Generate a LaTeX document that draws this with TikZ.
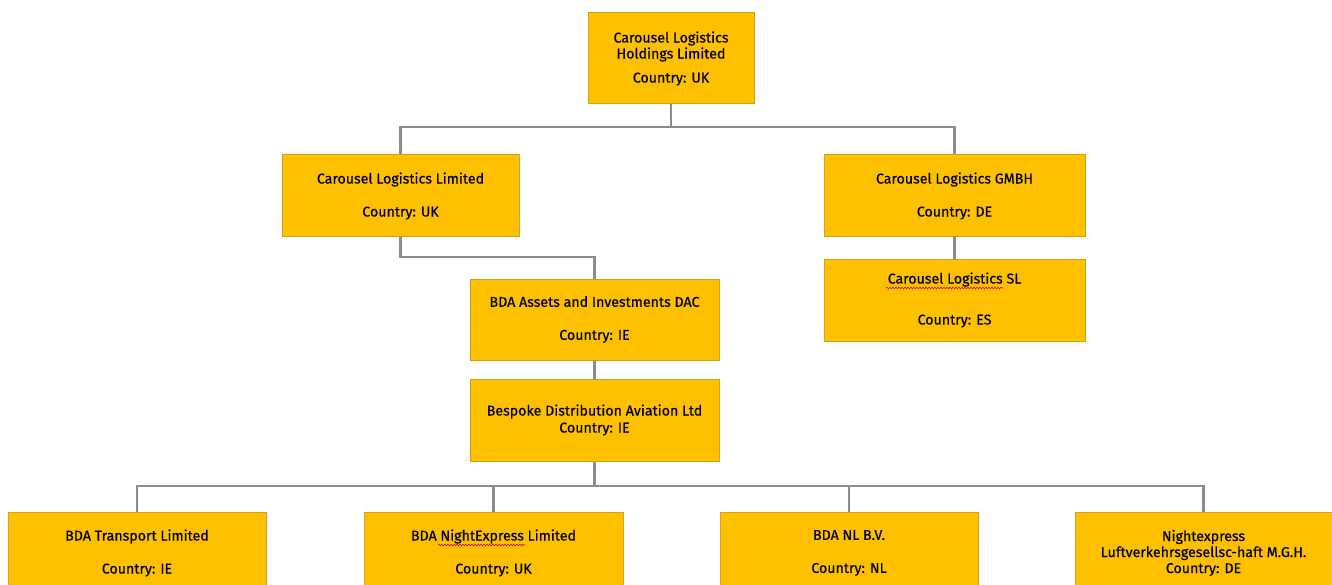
\documentclass[tikz,border=0pt]{standalone}
\usepackage{fontspec}
\setmainfont{Fira Sans}
\newfontfamily\boxfont{Fira Sans}[FakeBold=0.6]
\usetikzlibrary{decorations.pathmorphing}
\definecolor{boxfill}{HTML}{FFC000}
\definecolor{boxline}{HTML}{D4A017}
\definecolor{connc}{HTML}{8C8C8C}
\begin{document}
\begin{tikzpicture}[x=1pt,y=-1pt,
  entity/.style={draw=boxline, line width=1pt, fill=boxfill, rectangle, inner sep=0pt,
    align=center, font=\boxfont\fontsize{14.2}{16}\selectfont, text=black},
  conn/.style={draw=connc, line width=2.2pt},
  squig/.style={draw=red!85!black, line width=0.6pt, decorate,
    decoration={snake, amplitude=0.8pt, segment length=3pt}}]
\useasboundingbox (0,0) rectangle (1332,585);
% nodes
\node[entity, minimum width=166pt, minimum height=91pt] (top) at (671,58.5)
  {Carousel Logistics\\Holdings Limited\\[8pt]Country: UK};
\node[entity, minimum width=237pt, minimum height=82pt] (cll) at (400.5,196)
  {Carousel Logistics Limited\\[17pt]Country: UK};
\node[entity, minimum width=261pt, minimum height=82pt] (gmbh) at (954.5,196)
  {Carousel Logistics GMBH\\[17pt]Country: DE};
\node[entity, minimum width=261pt, minimum height=82pt] (sl) at (954.5,300)
  {Carousel Logistics SL\\[25pt]Country: ES};
\node[entity, minimum width=249pt, minimum height=81pt] (assets) at (594.5,319.5)
  {BDA Assets and Investments DAC\\[17pt]Country: IE};
\node[entity, minimum width=249pt, minimum height=82pt] (bespoke) at (594.5,420)
  {Bespoke Distribution Aviation Ltd\\[1pt]Country: IE};
\node[entity, minimum width=258pt, minimum height=82pt] (transport) at (137,553)
  {BDA Transport Limited\\[17pt]Country: IE};
\node[entity, minimum width=259pt, minimum height=82pt] (nightexp) at (493.5,553)
  {BDA NightExpress Limited\\[17pt]Country: UK};
\node[entity, minimum width=258pt, minimum height=82pt] (nl) at (849,553)
  {BDA NL B.V.\\[17pt]Country: NL};
\node[entity, minimum width=257pt, minimum height=82pt] (luft) at (1203.5,553)
  {Nightexpress\\Luftverkehrsgesellsc-haft M.G.H.\\Country: DE};
% bus levels
\coordinate (b1) at (0,127);
\coordinate (b2) at (0,257);
\coordinate (b3) at (0,486);
% connectors
\draw[conn] (top.south) -- (top.south |- b1) -| (cll.north);
\draw[conn] (top.south |- b1) -| (gmbh.north);
\draw[conn] (gmbh.south) -- (sl.north);
\draw[conn] (cll.south) -- (cll.south |- b2) -| (assets.north);
\draw[conn] (assets.south) -- (bespoke.north);
\draw[conn] (bespoke.south) -- (bespoke.south |- b3) -| (transport.north);
\draw[conn] (bespoke.south |- b3) -| (nightexp.north);
\draw[conn] (bespoke.south |- b3) -| (nl.north);
\draw[conn] (bespoke.south |- b3) -| (luft.north);
% spell-check underlines
\coordinate (s1a) at (886,288);
\coordinate (s1b) at (1003,288);
\draw[squig] (s1a) -- (s1b);
\coordinate (s2a) at (438,545);
\coordinate (s2b) at (525,545);
\draw[squig] (s2a) -- (s2b);
\end{tikzpicture}
\end{document}
